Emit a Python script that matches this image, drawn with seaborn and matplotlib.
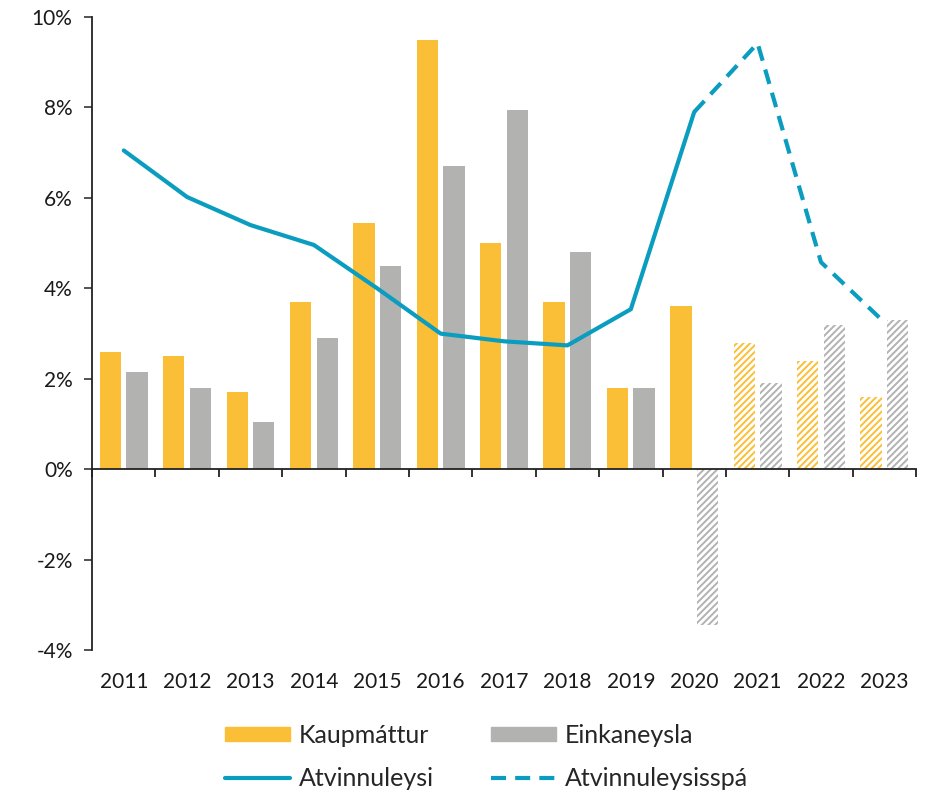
import numpy as np
import pandas as pd
import matplotlib
matplotlib.use("Agg")
import matplotlib.pyplot as plt
import seaborn as sns
from matplotlib.patches import Patch
from matplotlib.lines import Line2D
from matplotlib.ticker import FuncFormatter, FixedLocator

sns.set_theme(style="white")
plt.rcParams['font.family'] = ['Lato', 'DejaVu Sans']
plt.rcParams['hatch.linewidth'] = 1.4

# data
years = ['2011', '2012', '2013', '2014', '2015', '2016', '2017',
         '2018', '2019', '2020', '2021', '2022', '2023']
kaupmattur = [2.6, 2.5, 1.7, 3.7, 5.45, 9.5, 5.0, 3.7, 1.8, 3.6, 2.8, 2.4, 1.6]
einkaneysla = [2.15, 1.8, 1.05, 2.9, 4.5, 6.7, 7.95, 4.8, 1.8, -3.45, 1.9, 3.2, 3.3]
atvinnuleysi = [7.05, 6.02, 5.4, 4.96, 4.0, 3.0, 2.83, 2.74, 3.54, 7.9]
atvinnuleysi_spa = [7.9, 9.42, 4.58, 3.25]
spa_years = ['2020', '2021', '2022', '2023']
series = ['Kaupmáttur', 'Einkaneysla']
hatched = {series[0]: ['2021', '2022', '2023'],
           series[1]: ['2020', '2021', '2022', '2023']}

yellow = '#FBBF37'
grey = '#B2B3B1'
blue = '#0A9DC0'
dash = (0, (3.6, 2.2))

df = pd.DataFrame({'ar': years * 2,
                   'gildi': kaupmattur + einkaneysla,
                   'rod': [series[0]] * len(years) + [series[1]] * len(years)})

fig = plt.figure(figsize=(9.3, 7.92), dpi=100)
ax = fig.add_axes([0.099, 0.179, 0.886, 0.7995])

sns.barplot(data=df, x='ar', y='gildi', hue='rod', order=years,
            hue_order=series, palette=[yellow, grey], width=0.84, gap=0.2,
            saturation=1, legend=False, ax=ax)

# hatch the forecast bars
for cont, name, col in zip(ax.containers, series, [yellow, grey]):
    for yr, bar in zip(years, cont):
        bar.set_linewidth(0)
        if yr in hatched[name]:
            bar.set_facecolor('white')
            bar.set_edgecolor(col)
            bar.set_hatch('/////')

# unemployment lines
pos = {y: i for i, y in enumerate(years)}
sns.lineplot(x=[pos[y] for y in years[:len(atvinnuleysi)]], y=atvinnuleysi,
             color=blue, linewidth=3, ax=ax)
sns.lineplot(x=[pos[y] for y in spa_years], y=atvinnuleysi_spa,
             color=blue, linewidth=3, linestyle=dash, ax=ax)

ax.set_xlim(-0.5, len(years) - 0.5)
ax.set_ylim(-4, 10)
ax.set_yticks(np.arange(-4, 11, 2))
ax.yaxis.set_major_formatter(FuncFormatter(lambda v, p: f'{v:.0f}%'))
ax.set_xlabel('')
ax.set_ylabel('')

for s in ['top', 'right']:
    ax.spines[s].set_visible(False)
ax.spines['left'].set_color('#222222')
ax.spines['left'].set_linewidth(1.3)
ax.spines['bottom'].set_position(('data', 0))
ax.spines['bottom'].set_color('#222222')
ax.spines['bottom'].set_linewidth(1.3)

ax.tick_params(axis='y', left=True, length=6, width=1.3, color='#444444',
               labelsize=15, pad=8, labelcolor='#1a1a1a')
ax.xaxis.set_minor_locator(FixedLocator(np.arange(-0.5, len(years), 1)))
ax.tick_params(axis='x', which='major', length=0, labelbottom=False)
ax.tick_params(axis='x', which='minor', bottom=True, length=6, width=1.3,
               color='#222222')

sec = ax.secondary_xaxis('bottom')
sec.set_xticks(range(len(years)))
sec.set_xticklabels(years)
sec.spines['bottom'].set_visible(False)
sec.tick_params(length=0, labelsize=15, pad=16, labelcolor='#1a1a1a')

handles = [Patch(color=yellow, label='Kaupmáttur'),
           Line2D([], [], color=blue, linewidth=3, label='Atvinnuleysi'),
           Patch(color=grey, label='Einkaneysla'),
           Line2D([], [], color=blue, linewidth=3, linestyle=dash,
                  label='Atvinnuleysisspá')]
fig.legend(handles=handles, ncol=2, loc='lower center',
           bbox_to_anchor=(0.523, -0.026), frameon=False, fontsize=18,
           handlelength=2.6, handleheight=0.5, columnspacing=2.3,
           labelspacing=0.8, handletextpad=0.35)

fig.savefig('out.png', dpi=100)
